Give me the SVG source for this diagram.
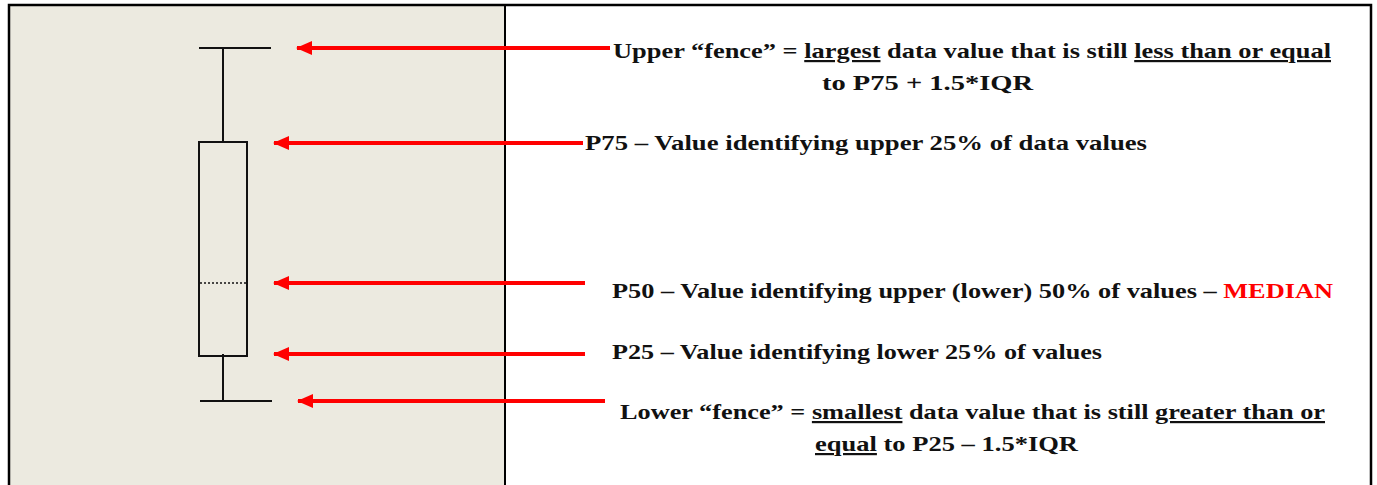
<svg xmlns="http://www.w3.org/2000/svg" width="1377" height="485" viewBox="0 0 1377 485">
<defs>
<style>
text{font-family:'Liberation Serif','Times New Roman',Times,serif;font-weight:700;font-size:22px;fill:#111}
.u{text-decoration:underline}
.red{fill:#ff0000}
.k{stroke:#111;stroke-width:2;fill:none}
.arr{stroke:#ff0000;stroke-width:4;fill:none}
</style>
<marker id="ah" viewBox="0 0 16 16" refX="15" refY="8" markerWidth="16" markerHeight="16" markerUnits="userSpaceOnUse" orient="auto">
<path d="M16,8 L0,1 L0,15 Z" fill="#ff0000"/>
</marker>
</defs>
<rect x="0" y="0" width="1377" height="485" fill="#ffffff"/>
<rect x="9" y="5" width="496" height="482" fill="#ECEAE0"/>
<path d="M9,487 V5 H1371 V487" stroke="#000" stroke-width="2.5" fill="none"/>
<line x1="505" y1="5" x2="505" y2="487" stroke="#000" stroke-width="2"/>
<g id="boxplot">
<line class="k" x1="199" y1="48" x2="271" y2="48"/>
<line class="k" x1="223" y1="48" x2="223" y2="143"/>
<rect class="k" x="199" y="142" width="48" height="214" fill="#ffffff"/>
<line x1="200" y1="283" x2="246" y2="283" stroke="#111" stroke-width="1.5" stroke-dasharray="2,2"/>
<line class="k" x1="223" y1="354" x2="223" y2="401"/>
<line class="k" x1="200" y1="401" x2="272" y2="401"/>
</g>
<g id="connectors">
<line class="arr" x1="610" y1="48" x2="297" y2="48" marker-end="url(#ah)"/>
<line class="arr" x1="583" y1="143" x2="274" y2="143" marker-end="url(#ah)"/>
<line class="arr" x1="585" y1="283" x2="274" y2="283" marker-end="url(#ah)"/>
<line class="arr" x1="585" y1="354" x2="274" y2="354" marker-end="url(#ah)"/>
<line class="arr" x1="605" y1="401" x2="298" y2="401" marker-end="url(#ah)"/>
</g>
<g id="label-upper-fence">
<text x="613" y="58" textLength="718" lengthAdjust="spacingAndGlyphs">Upper “fence” = <tspan class="u">largest</tspan> data value that is still <tspan class="u">less than or equal</tspan></text>
<text x="822" y="90" textLength="211" lengthAdjust="spacingAndGlyphs">to  P75 + 1.5*IQR</text>
</g>
<g id="label-p75">
<text x="585" y="150" textLength="562" lengthAdjust="spacingAndGlyphs">P75 – Value identifying upper 25% of data values</text>
</g>
<g id="label-p50">
<text x="612" y="298" textLength="721" lengthAdjust="spacingAndGlyphs">P50 – Value identifying upper (lower) 50% of values – <tspan class="red">MEDIAN</tspan></text>
</g>
<g id="label-p25">
<text x="612" y="359" textLength="490" lengthAdjust="spacingAndGlyphs">P25 – Value identifying lower 25% of values</text>
</g>
<g id="label-lower-fence">
<text x="620" y="419" textLength="705" lengthAdjust="spacingAndGlyphs">Lower “fence” = <tspan class="u">smallest</tspan> data value that is still <tspan class="u">greater than or</tspan></text>
<text x="815" y="451" textLength="263" lengthAdjust="spacingAndGlyphs"><tspan class="u">equal</tspan> to P25 – 1.5*IQR</text>
</g>
</svg>
